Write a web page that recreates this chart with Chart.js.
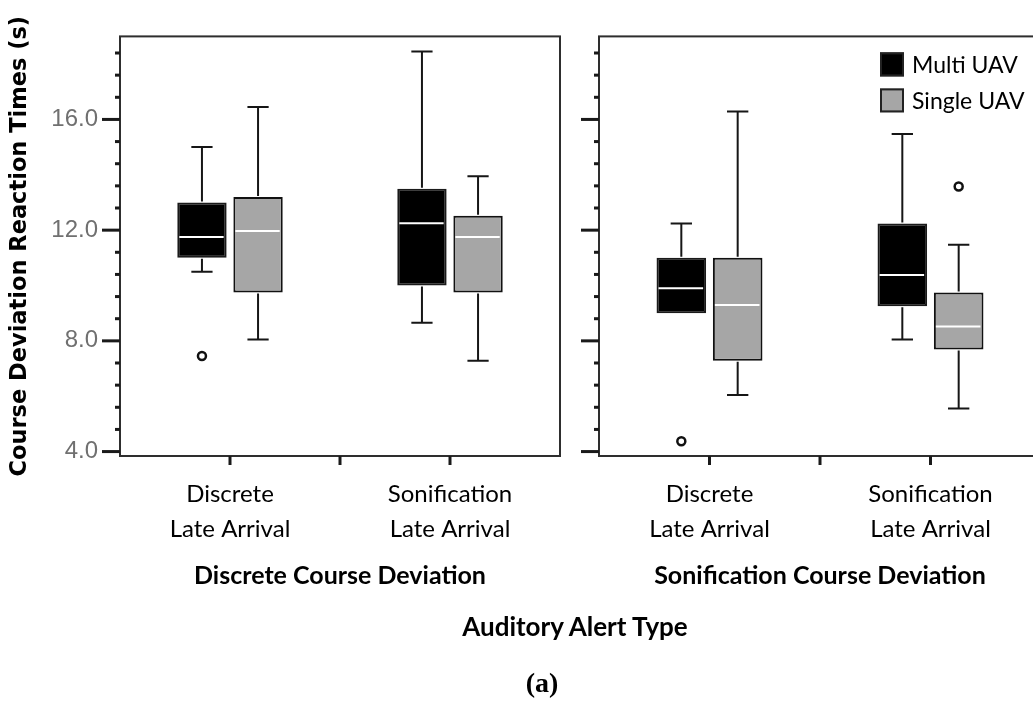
<!DOCTYPE html>
<html><head><meta charset="utf-8">
<script src="https://cdn.jsdelivr.net/npm/chart.js@4.4.1/dist/chart.umd.min.js"></script>
<style>
html,body{margin:0;padding:0;background:#fff;overflow:hidden;width:1033px;height:705px;position:relative;}
#c1{position:absolute;left:0;top:0;}
#c2{position:absolute;left:560px;top:0;}
.t{position:absolute;text-align:center;color:#000;white-space:nowrap;}
#axisTitle{left:375px;width:400px;top:611px;font:bold 26px Lato;line-height:30px;}
#panelTag{left:442px;width:200px;top:668px;font:bold 28px "Liberation Serif";line-height:30px;}
</style></head><body>
<canvas id="c1" width="600" height="705"></canvas>
<canvas id="c2" width="500" height="705"></canvas>
<div id="axisTitle" class="t">Auditory Alert Type</div>
<div id="panelTag" class="t">(a)</div>
<script>
// ---------- data ----------
const categories = [['Discrete', 'Late Arrival'], ['Sonification', 'Late Arrival']];
const panelTitles = ['Discrete Course Deviation', 'Sonification Course Deviation'];
const seriesNames = ['Multi UAV', 'Single UAV'];
const yAxisTitle = 'Course Deviation Reaction Times (s)';
const yMin = 3.84, yMax = 19.0, yStep = 0.8, yLabelEvery = 4;

// Panel 1: Discrete Course Deviation
const p1MultiMin = [10.5, 8.65];
const p1MultiQ1 = [11.0, 10.0];
const p1MultiMed = [11.75, 12.25];
const p1MultiQ3 = [13.0, 13.5];
const p1MultiMax = [15.0, 18.45];
const p1MultiOut = [[7.45], []];
const p1SingleMin = [8.05, 7.28];
const p1SingleQ1 = [9.75, 9.75];
const p1SingleMed = [11.97, 11.75];
const p1SingleQ3 = [13.2, 12.52];
const p1SingleMax = [16.45, 13.95];
const p1SingleOut = [[], []];

// Panel 2: Sonification Course Deviation
const p2MultiMin = [9.0, 8.05];
const p2MultiQ1 = [9.0, 9.25];
const p2MultiMed = [9.9, 10.38];
const p2MultiQ3 = [11.0, 12.24];
const p2MultiMax = [12.24, 15.47];
const p2MultiOut = [[4.37], []];
const p2SingleMin = [6.04, 5.56];
const p2SingleQ1 = [7.28, 7.69];
const p2SingleMed = [9.3, 8.52];
const p2SingleQ3 = [11.0, 9.75];
const p2SingleMax = [16.29, 11.47];
const p2SingleOut = [[], [13.58]];

// ---------- styling ----------
const multiFill = '#000000', multiBorder = '#1a1a1a';
const singleFill = '#a6a6a6', singleBorder = '#111111';

function makeDataset(label, mins, q1s, meds, q3s, maxs, outs, fill, border) {
  return {
    label: label,
    data: q1s.map((q, i) => [q, q3s[i]]),
    whiskerMin: mins, whiskerMax: maxs, median: meds, outliers: outs,
    backgroundColor: fill, borderColor: border, borderWidth: 2, borderSkipped: false,
    categoryPercentage: 0.51, barPercentage: 0.88
  };
}

const isMajor = v => Math.abs(v / yLabelEvery - Math.round(v / yLabelEvery)) < 1e-6;

const boxDecor = {
  id: 'boxDecor',
  afterDatasetsDraw(chart) {
    const ctx = chart.ctx, y = chart.scales.y;
    ctx.save();
    chart.data.datasets.forEach((ds, di) => {
      const meta = chart.getDatasetMeta(di);
      meta.data.forEach((bar, i) => {
        const x = bar.x, w = bar.width, cap = w * 0.43;
        const pQ1 = y.getPixelForValue(ds.data[i][0]);
        const pQ3 = y.getPixelForValue(ds.data[i][1]);
        const pMin = y.getPixelForValue(ds.whiskerMin[i]);
        const pMax = y.getPixelForValue(ds.whiskerMax[i]);
        const pMed = y.getPixelForValue(ds.median[i]);
        ctx.strokeStyle = '#161616';
        ctx.lineWidth = 2;
        ctx.beginPath();
        if (pMax < pQ3 - 0.5) {
          ctx.moveTo(x, pQ3 - 1); ctx.lineTo(x, pMax);
          ctx.moveTo(x - cap / 2, pMax); ctx.lineTo(x + cap / 2, pMax);
        }
        if (pMin > pQ1 + 0.5) {
          ctx.moveTo(x, pQ1 + 1); ctx.lineTo(x, pMin);
          ctx.moveTo(x - cap / 2, pMin); ctx.lineTo(x + cap / 2, pMin);
        }
        ctx.stroke();
        ctx.strokeStyle = '#ffffff';
        ctx.lineWidth = 2;
        ctx.beginPath();
        ctx.moveTo(x - w / 2 + 2, pMed); ctx.lineTo(x + w / 2 - 3, pMed);
        ctx.stroke();
        ds.outliers[i].forEach(v => {
          const py = y.getPixelForValue(v);
          ctx.beginPath();
          ctx.arc(x, py, 4, 0, Math.PI * 2);
          ctx.fillStyle = '#fff'; ctx.fill();
          ctx.lineWidth = 2.5; ctx.strokeStyle = '#111'; ctx.stroke();
        });
      });
    });
    ctx.restore();
  },
  afterDraw(chart, args, opts) {
    const ctx = chart.ctx, ca = chart.chartArea, yS = chart.scales.y, xS = chart.scales.x;
    ctx.save();
    // frame
    ctx.strokeStyle = '#2e2e2e';
    ctx.lineWidth = 2;
    ctx.strokeRect(ca.left, ca.top, ca.right - ca.left, ca.bottom - ca.top);
    // y ticks (major / minor)
    ctx.fillStyle = '#1a1a1a';
    yS.ticks.forEach(t => {
      const py = yS.getPixelForValue(t.value);
      const len = isMajor(t.value) ? 18 : 5;
      ctx.fillRect(ca.left - len, py - 1.5, len, 3);
    });
    // x ticks: at categories and between them
    const px = xS.ticks.map((t, i) => xS.getPixelForTick(i));
    const xt = px.slice();
    for (let i = 0; i < px.length - 1; i++) xt.push((px[i] + px[i + 1]) / 2);
    xt.forEach(p => ctx.fillRect(p - 1.5, ca.bottom, 3, 9));
    // legend
    if (opts && opts.legend) {
      const lx = ca.right - 161, ly0 = ca.top + 16;
      chart.data.datasets.forEach((ds, i) => {
        const by = ly0 + i * 36;
        ctx.fillStyle = ds.backgroundColor;
        ctx.fillRect(lx, by, 24, 24);
        ctx.strokeStyle = '#222';
        ctx.lineWidth = 2;
        ctx.strokeRect(lx + 1, by + 1, 22, 22);
        ctx.fillStyle = '#000';
        ctx.font = '23px Lato';
        ctx.textBaseline = 'middle';
        ctx.textAlign = 'left';
        ctx.fillText(ds.label, lx + 32, by + 13);
      });
    }
    ctx.restore();
  }
};

function makeChart(canvasId, panelIdx, datasets, opts) {
  return new Chart(document.getElementById(canvasId), {
    type: 'bar',
    data: { labels: categories, datasets: datasets },
    plugins: [boxDecor],
    options: {
      responsive: false, animation: false, devicePixelRatio: 1,
      layout: { padding: { top: 16, bottom: 0, left: 0, right: opts.padRight } },
      plugins: {
        legend: { display: false }, tooltip: { enabled: false },
        boxDecor: { legend: opts.legend }
      },
      scales: {
        x: {
          type: 'category', offset: true,
          grid: { display: false, drawTicks: false }, border: { display: false },
          ticks: { font: { family: 'Lato', size: 24, lineHeight: 1.45 }, color: '#000', padding: 21, maxRotation: 0, autoSkip: false },
          title: { display: true, text: panelTitles[panelIdx], font: { family: 'Lato', weight: 'bold', size: 25 }, color: '#000', padding: { top: 0, bottom: 114 } },
          afterFit: s => { s.height = 249; }
        },
        y: {
          type: 'linear', min: yMin, max: yMax,
          grid: { display: false, drawTicks: false }, border: { display: false },
          ticks: {
            stepSize: yStep, includeBounds: false, autoSkip: false,
            font: { family: 'Liberation Sans', size: 24 }, color: '#707070', padding: 22,
            callback: v => (opts.yLabels && isMajor(v)) ? v.toFixed(1) : ''
          },
          title: { display: opts.yLabels, text: yAxisTitle, font: { family: 'DejaVu Sans', weight: 'bold', size: 22.5 }, color: '#000', padding: { top: 7, bottom: 0 } },
          afterFit: s => { s.width = opts.yWidth; }
        }
      }
    }
  });
}

function draw() {
  makeChart('c1', 0, [
    makeDataset(seriesNames[0], p1MultiMin, p1MultiQ1, p1MultiMed, p1MultiQ3, p1MultiMax, p1MultiOut, multiFill, multiBorder),
    makeDataset(seriesNames[1], p1SingleMin, p1SingleQ1, p1SingleMed, p1SingleQ3, p1SingleMax, p1SingleOut, singleFill, singleBorder)
  ], { padRight: 40, yWidth: 120, yLabels: true, legend: false });
  makeChart('c2', 1, [
    makeDataset(seriesNames[0], p2MultiMin, p2MultiQ1, p2MultiMed, p2MultiQ3, p2MultiMax, p2MultiOut, multiFill, multiBorder),
    makeDataset(seriesNames[1], p2SingleMin, p2SingleQ1, p2SingleMed, p2SingleQ3, p2SingleMax, p2SingleOut, singleFill, singleBorder)
  ], { padRight: 19, yWidth: 39, yLabels: false, legend: true });
}

const fontLoads = ['24px Lato', 'bold 25px Lato', '24px "Liberation Sans"', 'bold 22px "DejaVu Sans"'].map(f => document.fonts.load(f).catch(() => null));
Promise.all(fontLoads).then(draw, draw);
</script>
</body></html>
